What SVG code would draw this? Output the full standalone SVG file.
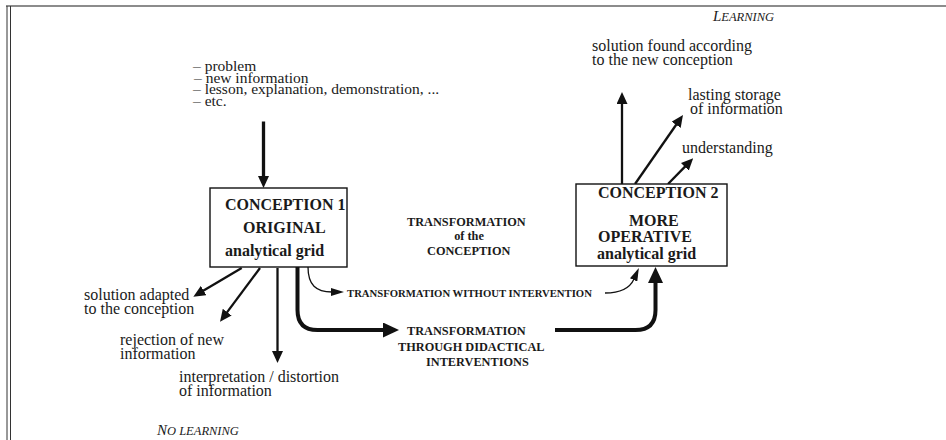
<svg xmlns="http://www.w3.org/2000/svg" width="946" height="440" viewBox="0 0 946 440">
  <style>
    text { font-family: "Liberation Serif", "Times New Roman", serif; fill: #1a1a1a; }
    .lbl { font-size: 16px; }
    .lst { font-size: 15.5px; }
    .box { fill: #ffffff; stroke: #111111; stroke-width: 1.4; }
    .ttl { font-size: 16px; font-weight: bold; }
    .mid { font-size: 12.3px; font-weight: bold; }
    .small { font-size: 10.7px; font-weight: bold; }
    .sc { font-style: italic; }
    .ln { fill: none; stroke: #111111; stroke-linecap: butt; }
    .w2 { stroke-width: 2.3; }
    .w3 { stroke-width: 3.3; }
    .w4 { stroke-width: 4; }
    .w1 { stroke-width: 1.3; }
  </style>
  <defs>
    <marker id="headM" markerUnits="userSpaceOnUse" markerWidth="12" markerHeight="11" refX="1" refY="5.5" orient="auto">
      <path d="M0,0 L12,5.5 L0,11 z" fill="#111111"/>
    </marker>
    <marker id="headL" markerUnits="userSpaceOnUse" markerWidth="16" markerHeight="15" refX="1" refY="7.5" orient="auto">
      <path d="M0,0 L16,7.5 L0,15 z" fill="#111111"/>
    </marker>
    <marker id="headS" markerUnits="userSpaceOnUse" markerWidth="13" markerHeight="8" refX="1" refY="4" orient="auto">
      <path d="M0,0 L13,4 L0,8 z" fill="#111111"/>
    </marker>
  </defs>

  <rect x="0" y="0" width="946" height="440" fill="#ffffff"/>

  <!-- page frame -->
  <g id="frame">
    <line x1="6" y1="6" x2="946" y2="6" stroke="#8c8c8c" stroke-width="2"/>
    <line x1="7" y1="6" x2="7" y2="440" stroke="#333333" stroke-width="1"/>
    <line x1="10.5" y1="6" x2="10.5" y2="440" stroke="#333333" stroke-width="1"/>
  </g>

  <!-- connectors -->
  <g id="connectors">
    <path class="ln w3" d="M263.5,121.5 L263.5,177" marker-end="url(#headM)"/>
    <path class="ln w2" d="M241.7,268 L202.8,291.1" marker-end="url(#headM)"/>
    <path class="ln w2" d="M260,268 L226.6,312.9" marker-end="url(#headM)"/>
    <path class="ln w2" d="M277.5,268 L277.5,352" marker-end="url(#headM)"/>
    <path class="ln w1" d="M308,267 C308,285 316,292 332,292" marker-end="url(#headS)"/>
    <path class="ln w1" d="M605,293 C622,293 630,288 634,279" marker-end="url(#headS)"/>
    <path class="ln w4" d="M297.5,267 L297.5,310 Q297.5,330 317.5,330 L384,330" marker-end="url(#headL)"/>
    <path class="ln w4" d="M555,330 L635.5,330 Q655.5,330 655.5,310 L655.5,282" marker-end="url(#headL)"/>
    <path class="ln w2" d="M622,184 L622,103" marker-end="url(#headM)"/>
    <path class="ln w2" d="M635,184 L676.7,124" marker-end="url(#headM)"/>
    <path class="ln w2" d="M668,184 L685.5,166.1" marker-end="url(#headM)"/>
  </g>

  <!-- incoming material -->
  <g id="inputs">
    <text class="lst" x="193" y="71">– problem</text>
    <text class="lst" x="194" y="82.7">– new information</text>
    <text class="lst" x="193" y="94.4">– lesson, explanation, demonstration, ...</text>
    <text class="lst" x="193" y="106">– etc.</text>
  </g>

  <g id="conception1">
    <rect class="box" x="210" y="188" width="137" height="79"/>
    <text class="ttl" x="225" y="210">CONCEPTION 1</text>
    <text class="ttl" x="243" y="233">ORIGINAL</text>
    <text class="ttl" x="225" y="256">analytical grid</text>
  </g>

  <g id="conception2">
    <rect class="box" x="576" y="184" width="151" height="82"/>
    <text class="ttl" x="598" y="198">CONCEPTION 2</text>
    <text class="ttl" x="629" y="226">MORE</text>
    <text class="ttl" x="598" y="242">OPERATIVE</text>
    <text class="ttl" x="597" y="259">analytical grid</text>
  </g>

  <g id="transformation">
    <text class="mid" x="407" y="226">TRANSFORMATION</text>
    <text class="mid" x="469" y="240" text-anchor="middle">of the</text>
    <text class="mid" x="427" y="255">CONCEPTION</text>
  </g>

  <g id="without-intervention">
    <text class="small" x="347" y="297">TRANSFORMATION WITHOUT INTERVENTION</text>
  </g>

  <g id="didactical">
    <text class="mid" x="407" y="335">TRANSFORMATION</text>
    <text class="mid" x="398" y="351">THROUGH DIDACTICAL</text>
    <text class="mid" x="426" y="366">INTERVENTIONS</text>
  </g>

  <g id="outcome-solution-adapted">
    <text class="lbl" x="84" y="300">solution adapted</text>
    <text class="lbl" x="84" y="314">to the conception</text>
  </g>
  <g id="outcome-rejection">
    <text class="lbl" x="120" y="345">rejection of new</text>
    <text class="lbl" x="120" y="359">information</text>
  </g>
  <g id="outcome-interpretation">
    <text class="lbl" x="179" y="382">interpretation / distortion</text>
    <text class="lbl" x="179" y="396">of information</text>
  </g>
  <g id="no-learning">
    <text class="sc" x="157" y="435" font-size="15">N<tspan font-size="12.5">O LEARNING</tspan></text>
  </g>

  <g id="outcome-solution-found">
    <text class="lbl" x="592" y="51">solution found according</text>
    <text class="lbl" x="592" y="65">to the new conception</text>
  </g>
  <g id="outcome-storage">
    <text class="lbl" x="688" y="100">lasting storage</text>
    <text class="lbl" x="690" y="114">of information</text>
  </g>
  <g id="outcome-understanding">
    <text class="lbl" x="682" y="153">understanding</text>
  </g>
  <g id="learning">
    <text class="sc" x="713" y="21" font-size="15">L<tspan font-size="12.5">EARNING</tspan></text>
  </g>
</svg>
